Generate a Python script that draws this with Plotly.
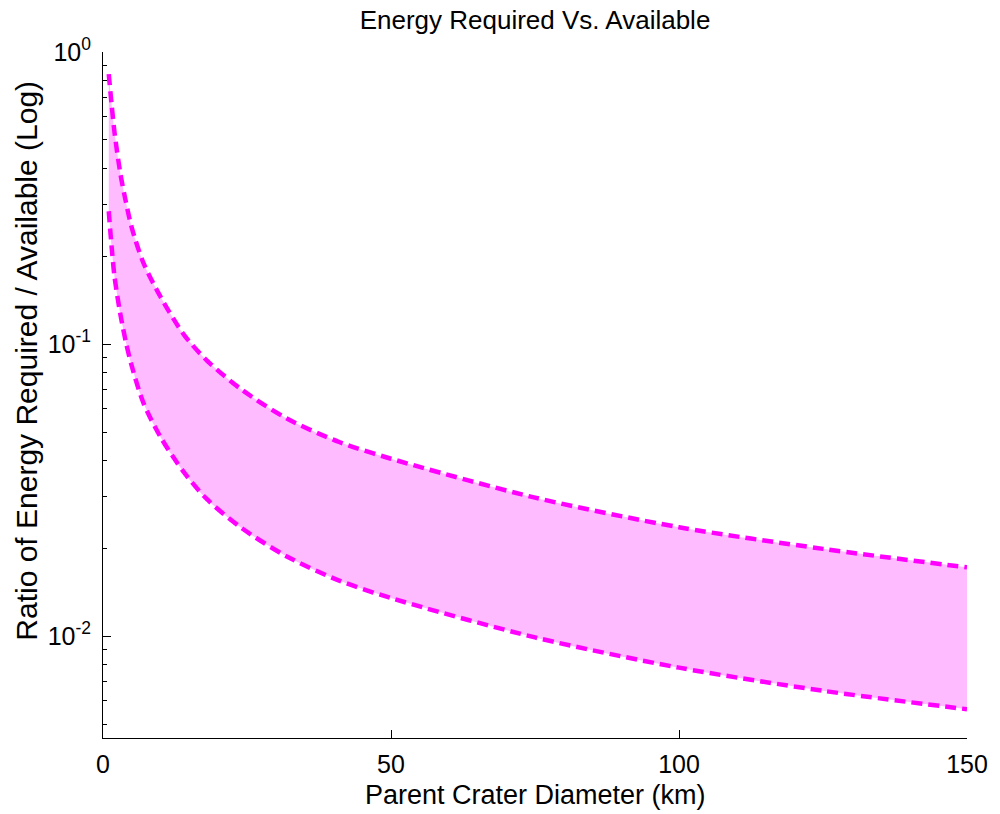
import plotly.graph_objects as go
import math

# Parent crater diameter (km)
diameter_km = [1, 1.5, 2, 3, 4, 5, 7, 10, 14, 18, 24, 32, 41, 50, 75, 100, 125, 150]

# Ratio of energy required / available: upper and lower bounds
ratio_upper = [0.84, 0.66, 0.53, 0.385, 0.305, 0.25, 0.19, 0.145, 0.108, 0.088,
               0.070, 0.0555, 0.0462, 0.0405, 0.0298, 0.0236, 0.0199, 0.0172]
ratio_lower = [0.285, 0.215, 0.17, 0.127, 0.101, 0.084, 0.063, 0.048, 0.0365, 0.0295,
               0.0235, 0.0187, 0.0155, 0.0135, 0.0099, 0.0078, 0.0065, 0.00562]

x_ticks = [0, 50, 100, 150]
y_ticks = [0.01, 0.1, 1]
y_tick_text = ["10<sup>-2</sup>", "10<sup>-1</sup>", "10<sup>0</sup>"]
y_minor = [m * 10.0 ** e for e in (-3, -2, -1) for m in range(2, 10)]

LINE = "#ff00ff"
FILL = "rgb(255,187,255)"
FONT = "Liberation Sans, Arial, sans-serif"
SMOOTH = dict(shape="spline", smoothing=0.8)

fig = go.Figure()

# shaded band between the two bounds
fig.add_trace(go.Scatter(x=diameter_km, y=ratio_lower, mode="lines",
                         line=dict(width=0, color=FILL, **SMOOTH),
                         hoverinfo="skip", showlegend=False))
fig.add_trace(go.Scatter(x=diameter_km, y=ratio_upper, mode="lines", fill="tonexty",
                         fillcolor=FILL,
                         line=dict(width=0, color=FILL, **SMOOTH),
                         hoverinfo="skip", showlegend=False))

# dashed bound curves
for vals in (ratio_upper, ratio_lower):
    fig.add_trace(go.Scatter(x=diameter_km, y=vals, mode="lines",
                             line=dict(width=4.5, color=LINE, dash="11px,6px", **SMOOTH),
                             showlegend=False))

axis_common = dict(showline=True, linecolor="#000000", linewidth=1, mirror=False,
                   ticks="inside", ticklen=8, tickwidth=1, tickcolor="#000000",
                   showgrid=False, zeroline=False,
                   tickfont=dict(family=FONT, size=25, color="#000000"))

fig.update_xaxes(range=[0, 150], tickvals=x_ticks, ticktext=[str(v) for v in x_ticks],
                 ticklabelstandoff=4, **axis_common)
fig.update_yaxes(type="log", range=[math.log10(0.00448), 0],
                 tickvals=y_ticks, ticktext=y_tick_text, ticklabelstandoff=6,
                 minor=dict(tickvals=y_minor, ticks="inside", ticklen=4,
                            tickcolor="#000000", showgrid=False),
                 **axis_common)

fig.update_layout(
    width=1000, height=814,
    margin=dict(l=103, r=22, t=52, b=76),
    paper_bgcolor="white", plot_bgcolor="white",
    font=dict(family=FONT, color="#000000"),
    title=dict(text="Energy Required Vs. Available", x=0.5, xref="paper",
               xanchor="center", y=1 - 20 / 814, yref="container", yanchor="middle",
               font=dict(family=FONT, size=26, color="#000000")),
    annotations=[
        dict(text="Parent Crater Diameter (km)", x=0.5, y=0, xref="paper", yref="paper",
             xanchor="center", yanchor="middle", yshift=-57, showarrow=False,
             font=dict(family=FONT, size=27, color="#000000")),
        dict(text="Ratio of Energy Required / Available (Log)", x=0, y=0.55,
             xref="paper", yref="paper", xanchor="center", yanchor="middle",
             xshift=-76, textangle=-90, showarrow=False,
             font=dict(family=FONT, size=30, color="#000000")),
    ],
)

fig.write_html("out.html")
